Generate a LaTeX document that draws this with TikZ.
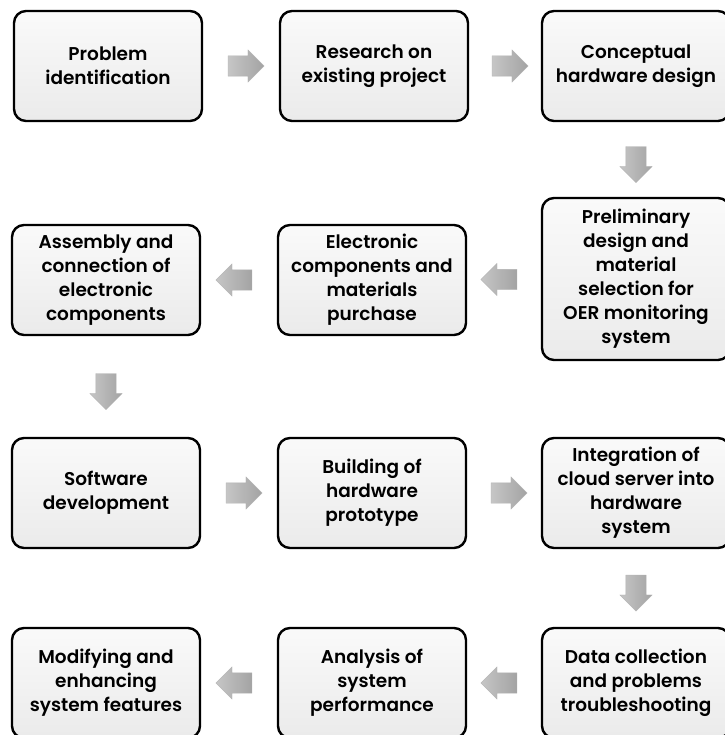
\documentclass[tikz,border=0pt]{standalone}
\usepackage{fontspec}
\setmainfont{Poppins}[BoldFont={Poppins SemiBold}]
\usepackage{tikz}
\usetikzlibrary{calc,shapes.arrows}
\tikzset{
    stepbox/.style={draw=black,line width=2.4pt,rounded corners=12pt,
        top color=gray!4,bottom color=gray!16,minimum width=188pt,
        minimum height=110pt,align=center,inner sep=0pt,
        font=\fontsize{18.5}{24}\selectfont\bfseries},
    flowarrow/.style={single arrow,single arrow head extend=6pt,
        minimum height=36pt,inner xsep=0pt,inner ysep=10pt,
        left color=gray!45,right color=gray!72,draw=gray!60,line width=0.3pt}
}

\begin{document}
\begin{tikzpicture}[x=1pt,y=-1pt]
  \useasboundingbox (0,0) rectangle (724,735);
  % row 1
  \node[stepbox] (ident)    at (108,66) {Problem\\identification};
  \node[stepbox] (research) at (374,66) {Research on\\existing project};
  \node[stepbox] (concept)  at (636,66) {Conceptual\\hardware design};
  % row 2
  \node[stepbox,minimum height=162pt] (prelim) at (636,279)
      {Preliminary\\design and\\material\\selection for\\OER monitoring\\system};
  \node[stepbox] (purchase) at (372,280) {Electronic\\components and\\materials\\purchase};
  \node[stepbox] (assembly) at (106,280) {Assembly and\\connection of\\electronic\\components};
  % row 3
  \node[stepbox] (software) at (106,493) {Software\\development};
  \node[stepbox] (proto)    at (372,493) {Building of\\hardware\\prototype};
  \node[stepbox] (cloud)    at (636,493) {Integration of\\cloud server into\\hardware\\system};
  % row 4
  \node[stepbox] (datacol)  at (636,683) {Data collection\\and problems\\troubleshooting};
  \node[stepbox] (analysis) at (372,683) {Analysis of\\system\\performance};
  \node[stepbox] (modify)   at (106,683) {Modifying and\\enhancing\\system features};

  % arrows between the steps
  \node[flowarrow] (a1) at ($(ident.east)!0.5!(research.west)$) {};
  \node[flowarrow] (a2) at ($(research.east)!0.5!(concept.west)$) {};
  \node[flowarrow,rotate=-90] (a3) at ($(concept.south)!0.5!(prelim.north)$) {};
  \node[flowarrow,rotate=180] (a4) at ($(prelim.west)!0.5!(purchase.east)$) {};
  \node[flowarrow,rotate=180] (a5) at ($(purchase.west)!0.5!(assembly.east)$) {};
  \node[flowarrow,rotate=-90] (a6) at ($(assembly.south)!0.5!(software.north)$) {};
  \node[flowarrow] (a7) at ($(software.east)!0.5!(proto.west)$) {};
  \node[flowarrow] (a8) at ($(proto.east)!0.5!(cloud.west)$) {};
  \node[flowarrow,rotate=-90] (a9) at ($(cloud.south)!0.5!(datacol.north)$) {};
  \node[flowarrow,rotate=180] (a10) at ($(datacol.west)!0.5!(analysis.east)$) {};
  \node[flowarrow,rotate=180] (a11) at ($(analysis.west)!0.5!(modify.east)$) {};
\end{tikzpicture}
\end{document}
